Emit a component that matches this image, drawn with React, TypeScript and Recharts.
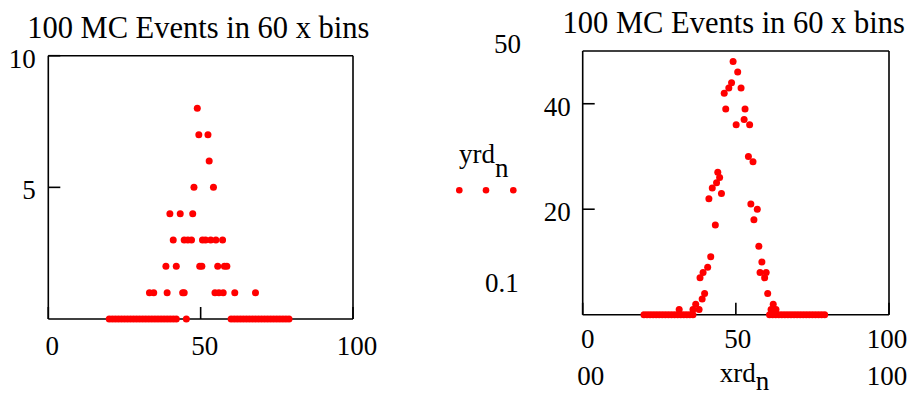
import React from 'react';
import { ScatterChart, Scatter, XAxis, YAxis } from 'recharts';

const FONT = '"Liberation Serif", "Times New Roman", serif';
const RED = '#ff0000';
const INK = '#000000';

const titleText = '100 MC Events in 60 x bins';
const xTicks = [0, 50, 100];
const leftYTicks = [5, 10];
const rightYTicks = [20, 40];
const rightXRow2 = ['00', 'xrd', '100'];

// Left panel: non-zero points
const leftX = [48.9, 49.4, 52.4, 52.8, 47.8, 54.2, 39.9, 43.3, 47.4, 41.0, 44.6, 45.8, 47.0, 50.6, 51.6, 53.3, 55.0, 57.2, 38.6, 42.0, 49.7, 50.4, 55.6, 57.8, 58.6, 33.2, 34.6, 39.0, 44.1, 44.6, 54.7, 56.0, 57.4, 61.2, 68.0];
const leftY = [8, 7, 7, 6, 5, 5, 4, 4, 4, 3, 3, 3, 3, 3, 3, 3, 3, 3, 2, 2, 2, 2, 2, 2, 2, 1, 1, 1, 1, 1, 1, 1, 1, 1, 1];
// Left panel: empty bins (y = 0)
const leftZeroX = [20, 21, 22, 23, 24, 25, 26, 27, 28, 29, 30, 31, 32, 33, 34, 35, 36, 37, 38, 39, 40, 41, 42, 45.3, 60, 61, 62, 63, 64, 65, 66, 67, 68, 69, 70, 71, 72, 73, 74, 75, 76, 77, 78, 79];

// Right panel: non-zero points
const rightX = [49.1, 50.6, 48.6, 47.7, 46.2, 51.7, 46.7, 53.0, 52.7, 50.1, 54.5, 54.1, 55.6, 44.1, 44.7, 43.7, 42.3, 45.3, 41.2, 54.9, 57.0, 55.9, 43.3, 57.5, 41.8, 58.5, 40.8, 57.9, 59.9, 39.3, 38.3, 59.4, 39.8, 60.4, 39.0, 36.9, 62.2, 31.5, 36.0, 38.0, 61.5, 63.1];
const rightY = [48, 46, 44, 43, 42, 43, 39, 39, 37, 36, 36, 30, 29, 27, 26, 25, 24, 23, 22, 21, 20, 18, 17, 13, 11, 10, 9, 8, 8, 8, 7, 7, 4, 4, 3, 2, 2, 1, 1, 1, 1, 1];
// Right panel: empty bins (y = 0)
const rightZeroX = [20, 21, 22, 23, 24, 25, 26, 27, 28, 29, 30, 31, 32, 33, 34, 35, 36, 61, 62, 63, 64, 65, 66, 67, 68, 69, 70, 71, 72, 73, 74, 75, 76, 77, 78, 79];

const leftData = [
  ...leftX.map((x, i) => ({ x, y: leftY[i] })),
  ...leftZeroX.map((x) => ({ x, y: 0 })),
];
const rightData = [
  ...rightX.map((x, i) => ({ x, y: rightY[i] })),
  ...rightZeroX.map((x) => ({ x, y: 0 })),
];

const dot = (p: any) => <circle cx={p.cx} cy={p.cy} r={3.5} fill={RED} />;

const txt = { fontFamily: FONT, fontSize: 27, fill: INK } as const;

// Axis geometry: XAxis height 20, YAxis width 20; ticks point inward (negative tickSize).
const AX = 20;

const LeftXTick = (p: any) => (
  <text x={p.x + 4} y={p.y + 36} textAnchor="middle" {...txt}>{p.payload.value}</text>
);
const LeftYTick = (p: any) => (
  <text x={p.x - 12.5} y={p.y + 12} textAnchor="end" {...txt}>{p.payload.value}</text>
);
const rowOneDx = [5, 2, -2];
const rowTwoDx = [8, 0, -2];
const RightXTick = (p: any) => {
  const i = p.index;
  return (
    <g>
      <text x={p.x + rowOneDx[i]} y={p.y + 33} textAnchor="middle" {...txt}>{p.payload.value}</text>
      {i === 1 ? (
        <text x={p.x - 16} y={p.y + 67} textAnchor="start" {...txt}>
          {rightXRow2[i]}
          <tspan dy={8}>n</tspan>
        </text>
      ) : (
        <text x={p.x + rowTwoDx[i]} y={p.y + 70} textAnchor="middle" {...txt}>{rightXRow2[i]}</text>
      )}
    </g>
  );
};
const RightYTick = (p: any) => (
  <text x={p.x - 12} y={p.y + 12} textAnchor="end" {...txt}>{p.payload.value}</text>
);

const axisLine = { stroke: INK, strokeWidth: 1.6 };
const tickLine = { stroke: INK, strokeWidth: 1.6 };

export default function App() {
  return (
    <div style={{ position: 'absolute', left: 0, top: 0, width: 916, height: 396, background: '#fff', overflow: 'hidden' }}>
      <div style={{ position: 'absolute', left: 0, top: 0 }}>
        <ScatterChart width={458} height={396} margin={{ top: 55.7 - AX, right: 105 - AX, bottom: 77 - AX, left: 48.3 - AX }}>
          <XAxis xAxisId="b" type="number" dataKey="x" domain={[0, 100]} ticks={xTicks} height={AX}
            axisLine={axisLine} tickLine={tickLine} tickSize={-12} tickMargin={12} tick={LeftXTick} interval={0} />
          <XAxis xAxisId="t" orientation="top" type="number" domain={[0, 100]} ticks={[50]} height={AX}
            allowDataOverflow axisLine={axisLine} tickLine={tickLine} tickSize={-12} tick={false} />
          <YAxis yAxisId="l" type="number" dataKey="y" domain={[0, 10]} ticks={leftYTicks} width={AX}
            axisLine={axisLine} tickLine={tickLine} tickSize={-12} tickMargin={12} tick={LeftYTick} interval={0} />
          <YAxis yAxisId="r" orientation="right" type="number" domain={[0, 10]} ticks={[5]} width={AX}
            allowDataOverflow axisLine={axisLine} tickLine={tickLine} tickSize={-12} tick={false} />
          <Scatter xAxisId="b" yAxisId="l" data={leftData} shape={dot} isAnimationActive={false} />
        </ScatterChart>
      </div>
      <div style={{ position: 'absolute', left: 458, top: 0 }}>
        <ScatterChart width={458} height={396} margin={{ top: 51 - AX, right: 27 - AX, bottom: 81.3 - AX, left: 124.7 - AX }}>
          <XAxis xAxisId="b" type="number" dataKey="x" domain={[0, 100]} ticks={xTicks} height={AX}
            axisLine={axisLine} tickLine={tickLine} tickSize={-12} tickMargin={12} tick={RightXTick} interval={0} />
          <XAxis xAxisId="t" orientation="top" type="number" domain={[0, 100]} ticks={[50]} height={AX}
            allowDataOverflow axisLine={axisLine} tickLine={tickLine} tickSize={-12} tick={false} />
          <YAxis yAxisId="l" type="number" dataKey="y" domain={[0, 50]} ticks={rightYTicks} width={AX}
            axisLine={axisLine} tickLine={tickLine} tickSize={-12} tickMargin={12} tick={RightYTick} interval={0} />
          <YAxis yAxisId="r" orientation="right" type="number" domain={[0, 50]} ticks={rightYTicks} width={AX}
            allowDataOverflow axisLine={axisLine} tickLine={tickLine} tickSize={-12} tick={false} />
          <Scatter xAxisId="b" yAxisId="l" data={rightData} shape={dot} isAnimationActive={false} />
        </ScatterChart>
      </div>
      <svg width={916} height={396} style={{ position: 'absolute', left: 0, top: 0, pointerEvents: 'none' }}>
        <text x={198.3} y={38.3} textAnchor="middle" fontFamily={FONT} fontSize={30.5} fill={INK}>{titleText}</text>
        <text x={733.7} y={33.3} textAnchor="middle" fontFamily={FONT} fontSize={30.5} fill={INK}>{titleText}</text>
        <text x={494} y={52.7} textAnchor="start" {...txt}>50</text>
        <text x={485} y={291.7} textAnchor="start" {...txt}>0.1</text>
        <text x={459} y={163.3} textAnchor="start" {...txt}>yrd<tspan dy={13.4}>n</tspan></text>
        <circle cx={459.3} cy={190.3} r={3.3} fill={RED} />
        <circle cx={486} cy={190.3} r={3.3} fill={RED} />
        <circle cx={513.3} cy={190.3} r={3.3} fill={RED} />
      </svg>
    </div>
  );
}
